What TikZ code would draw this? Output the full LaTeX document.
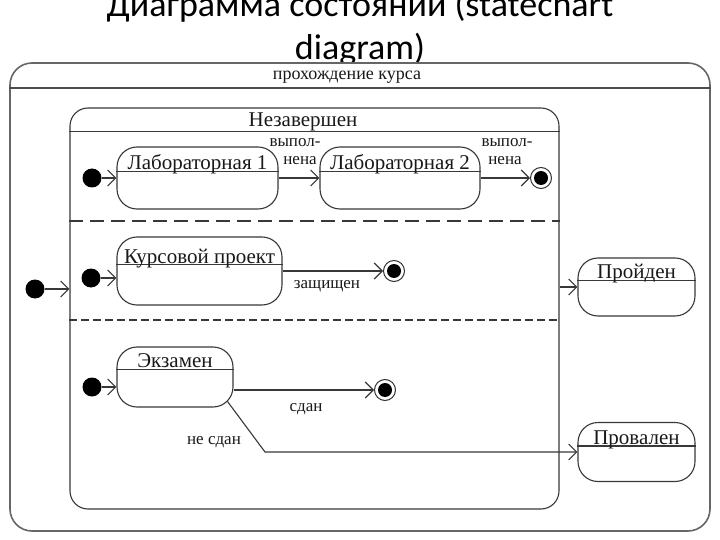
\documentclass[tikz,border=0pt]{standalone}
\usepackage{fontspec}
\setmainfont{Liberation Serif}
\newfontfamily\titlefont{Carlito}
\usetikzlibrary{arrows.meta,calc}
\begin{document}
\begin{tikzpicture}[x=1pt,y=-1pt]
\tikzset{
  ln/.style={draw=black!78, line width=1.1pt},
  state/.style={ln, rounded corners=20pt, inner sep=0pt, fill=white},
  arr/.style={ln, -{Straight Barb[length=8pt,width=16pt]}},
  init/.style={circle, fill=black, minimum size=19pt, inner sep=0pt},
  fin/.style={circle, draw=black!80, line width=1pt, fill=white, minimum size=21pt, inner sep=0pt,
    path picture={\fill[black] (path picture bounding box.center) circle (7pt);}},
  big/.style={font=\fontsize{21}{24}\selectfont, text=black!90, inner sep=0pt, anchor=base},
  small/.style={font=\fontsize{17}{19}\selectfont, text=black!90, inner sep=0pt, anchor=base}
}
\useasboundingbox[fill=white] (0,0) rectangle (720,540);

% title
\node[font=\titlefont\fontsize{36}{43}\selectfont, anchor=base, inner sep=0pt] (t1) at (360,17) {Диаграмма состояний (statechart};
\node[font=\titlefont\fontsize{36}{43}\selectfont, anchor=base, inner sep=0pt] (t2) at (360,60) {diagram)};

% outer composite state
\node[state, rounded corners=22pt, line width=1.6pt, draw=black!60, minimum width=700pt, minimum height=468pt] (outer) at (360,297) {};
\draw[ln, line width=1.4pt, draw=black!70] ($(outer.north west)+(0,26)$) -- ($(outer.north east)+(0,26)$);
\node[big, font=\fontsize{18}{20}\selectfont] (outerlbl) at (347,80) {прохождение курса};

% inner composite state
\node[state, rounded corners=18pt, minimum width=489pt, minimum height=401pt] (inner) at (314.5,308.5) {};
\draw[ln] ($(inner.north west)+(0,24)$) -- ($(inner.north east)+(0,24)$);
\node[big] (innerlbl) at (303,127) {Незавершен};
\draw[ln, dash pattern=on 14pt off 7pt] (inner.west |- 0,221) -- (inner.east |- 0,221);
\draw[ln, dash pattern=on 8pt off 4pt] (inner.west |- 0,320) -- (inner.east |- 0,320);

% region 1
\node[init] (i1) at (92,178) {};
\node[state, minimum width=161pt, minimum height=62pt] (lab1) at (197.5,178) {};
\draw[ln] ($(lab1.north west)+(0,25)$) -- ($(lab1.north east)+(0,25)$);
\node[big] at (197.5,170) {Лабораторная 1};
\node[state, minimum width=160pt, minimum height=62pt] (lab2) at (400,178) {};
\draw[ln] ($(lab2.north west)+(0,25)$) -- ($(lab2.north east)+(0,25)$);
\node[big] at (400,170) {Лабораторная 2};
\node[fin] (f1) at (541,178) {};
\draw[arr] (i1) -- (lab1.west);
\draw[arr] (lab1.east) -- (lab2.west);
\draw[arr] (lab2.east) -- (f1);
\node[small] at (295,147) {выпол-};
\node[small] at (300,165) {нена};
\node[small] at (507,147) {выпол-};
\node[small] at (505,165) {нена};

% region 2
\node[init] (i2) at (91,278) {};
\node[state, minimum width=165pt, minimum height=68pt] (kurs) at (199.5,271) {};
\draw[ln] ($(kurs.north west)+(0,28)$) -- ($(kurs.north east)+(0,28)$);
\node[big] at (199.5,263) {Курсовой проект};
\node[fin] (f2) at (394,271) {};
\draw[arr] (i2) -- (i2 -| kurs.west);
\draw[arr] (kurs.east) -- (f2);
\node[small] at (327,288) {защищен};

% region 3
\node[init] (i3) at (92,387) {};
\node[state, minimum width=116pt, minimum height=60pt] (exam) at (175,377) {};
\draw[ln] ($(exam.north west)+(0,23)$) -- ($(exam.north east)+(0,23)$);
\node[big] at (175,367) {Экзамен};
\node[fin] (f3) at (385,390) {};
\draw[arr] (i3) -- (i3 -| exam.west);
\draw[arr] (exam.east |- f3) -- (f3);
\node[small] at (306,411) {сдан};
\node[small] at (214,444) {не сдан};

% outer simple states
\node[state, minimum width=117pt, minimum height=58pt] (passed) at (636.5,287) {};
\draw[ln] ($(passed.north west)+(0,23)$) -- ($(passed.north east)+(0,23)$);
\node[big] at (636.5,278) {Пройден};
\node[state, minimum width=117pt, minimum height=59pt] (failed) at (636.5,452) {};
\draw[ln] ($(failed.north west)+(0,24)$) -- ($(failed.north east)+(0,24)$);
\node[big] at (636.5,444) {Провален};

% transitions between composite states
\node[init] (i0) at (35,289) {};
\draw[arr] (i0) -- (i0 -| inner.west);
\draw[arr] (inner.east |- passed.west) -- (passed.west);
\coordinate (exout) at ($(exam.south east)+(-6,-6)$);
\coordinate (bend) at (265,452);
\draw[arr] (exout) -- (bend) -- (failed.west);
\end{tikzpicture}
\end{document}
